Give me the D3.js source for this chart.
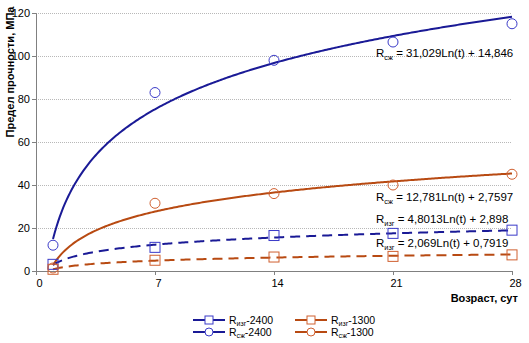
<!DOCTYPE html>
<html><head><meta charset="utf-8">
<script src="https://cdn.jsdelivr.net/npm/d3@7"></script>
<style>body{margin:0;background:#fff}svg{display:block;font-family:Arial,"Liberation Sans",sans-serif}</style>
</head><body><svg id="c" width="529" height="343"></svg>
<script>
const days = [1, 7, 14, 21, 28];
const rszh2400 = [12, 83, 98, 106.5, 115];
const rszh1300 = [1.4, 31.5, 36, 40, 45];
const rizg2400 = [3.1, 11, 16.5, 17.5, 19];
const rizg1300 = [0.8, 5, 6.5, 6.8, 7.5];
// trend coefficients as printed on the chart: y = a*Ln(t) + b
const trendA = [31.029, 12.781, 4.8013, 2.069];
const trendB = [14.846, 2.7597, 2.898, 0.7919];
const eqLabels = ["31,029Ln(t) + 14,846", "12,781Ln(t) + 2,7597", "4,8013Ln(t) + 2,898", "2,069Ln(t) + 0,7919"];
const xTicks = [0, 7, 14, 21, 28];
const yTicks = [0, 20, 40, 60, 80, 100, 120];

const BLUE = "#1a1a96", BLUE_M = "#3a3ac8", ORANGE = "#b84a12", ORANGE_M = "#d06030";
const series = [
  {sub: "сж", name: "-2400", vals: rszh2400, lc: BLUE, mc: BLUE_M, marker: "circle", dash: null, k: 0, eqY: 57},
  {sub: "сж", name: "-1300", vals: rszh1300, lc: ORANGE, mc: ORANGE_M, marker: "circle", dash: null, k: 1, eqY: 201},
  {sub: "изг", name: "-2400", vals: rizg2400, lc: BLUE, mc: BLUE_M, marker: "square", dash: "10,6", k: 2, eqY: 223},
  {sub: "изг", name: "-1300", vals: rizg1300, lc: ORANGE, mc: ORANGE_M, marker: "square", dash: "10,6", k: 3, eqY: 247}
];

const svg = d3.select("#c");
const x = d3.scaleLinear().domain([0, 28]).range([36, 512]);
const y = d3.scaleLinear().domain([0, 120]).range([271, 13]);

// gridlines
svg.append("g").selectAll("line").data(yTicks.filter(d => d > 0)).join("line")
  .attr("x1", x(0)).attr("x2", x(28)).attr("y1", d => y(d)).attr("y2", d => y(d))
  .attr("stroke", "#b8b8b8").attr("stroke-dasharray", "1,1").attr("shape-rendering", "crispEdges");

// axes
const yAxis = d3.axisLeft(y).tickValues(yTicks).tickSize(4).tickPadding(2);
const gy = svg.append("g").attr("transform", `translate(${x(0)},0)`).call(yAxis);
const xAxis = d3.axisBottom(x).tickValues(xTicks).tickSize(4).tickPadding(4);
const gx = svg.append("g").attr("transform", `translate(0,${y(0)})`).call(xAxis);
[gx, gy].forEach(g => {
  g.select(".domain").attr("stroke", "#808080");
  g.selectAll(".tick line").attr("stroke", "#808080");
  g.selectAll(".tick text").attr("fill", "#000").attr("font-size", 11).attr("font-family", "Arial, Liberation Sans");
});
gx.selectAll(".tick text").attr("dx", 3);

// trendlines
const tSamples = d3.range(1, 28.001, 0.1);
const line = d3.line().x(d => x(d[0])).y(d => y(d[1]));
series.forEach(s => {
  const pts = tSamples.map(t => [t, trendA[s.k] * Math.log(t) + trendB[s.k]]);
  svg.append("path").datum(pts).attr("d", line).attr("fill", "none")
    .attr("stroke", s.lc).attr("stroke-width", 2).attr("stroke-dasharray", s.dash);
});

// markers
function drawMarker(g, type, cx, cy, color, sz) {
  if (type === "circle") g.append("circle").attr("cx", cx).attr("cy", cy).attr("r", sz).attr("fill", sz < 5 ? "#fff" : "none").attr("stroke", color).attr("stroke-width", 1);
  else g.append("rect").attr("x", cx - sz).attr("y", cy - sz).attr("width", 2 * sz).attr("height", 2 * sz).attr("fill", sz < 5 ? "#fff" : "none").attr("stroke", color).attr("stroke-width", 1);
}
series.forEach(s => {
  const g = svg.append("g");
  days.forEach((d, i) => drawMarker(g, s.marker, x(d), y(s.vals[i]), s.mc, 5));
});

// equation labels
function rText(g, px, py, sub, rest, size) {
  const t = g.append("text").attr("x", px).attr("y", py).attr("font-size", size).attr("fill", "#000");
  t.append("tspan").text("R");
  t.append("tspan").attr("font-size", size * 0.64).attr("dy", 3).text(sub);
  t.append("tspan").attr("dy", -3).text(rest);
  return t;
}
series.forEach(s => rText(svg, 376, s.eqY, s.sub, " = " + eqLabels[s.k], 11.5));

// axis titles
svg.append("text").attr("transform", "translate(14,72) rotate(-90)").attr("text-anchor", "middle")
  .attr("font-size", 11).attr("font-weight", "bold").text("Предел прочности, МПа");
svg.append("text").attr("x", 518).attr("y", 302).attr("text-anchor", "end")
  .attr("font-size", 11).attr("font-weight", "bold").text("Возраст, сут");

// legend
const legendItems = [
  {s: series[2], lx: 193, ly: 320}, {s: series[0], lx: 193, ly: 332},
  {s: series[3], lx: 295, ly: 320}, {s: series[1], lx: 295, ly: 332}
];
legendItems.forEach(it => {
  const g = svg.append("g");
  g.append("line").attr("x1", it.lx).attr("x2", it.lx + 32).attr("y1", it.ly).attr("y2", it.ly)
    .attr("stroke", it.s.lc).attr("stroke-width", 2);
  drawMarker(g, it.s.marker, it.lx + 16, it.ly, it.s.mc, 4);
  const t = g.append("text").attr("x", it.lx + 36).attr("y", it.ly + 4).attr("font-size", 10.5);
  t.append("tspan").text("R");
  t.append("tspan").attr("font-size", 7).attr("dy", 2).text(it.s.sub);
  t.append("tspan").attr("dy", -2).text(it.s.name);
});
</script></body></html>
